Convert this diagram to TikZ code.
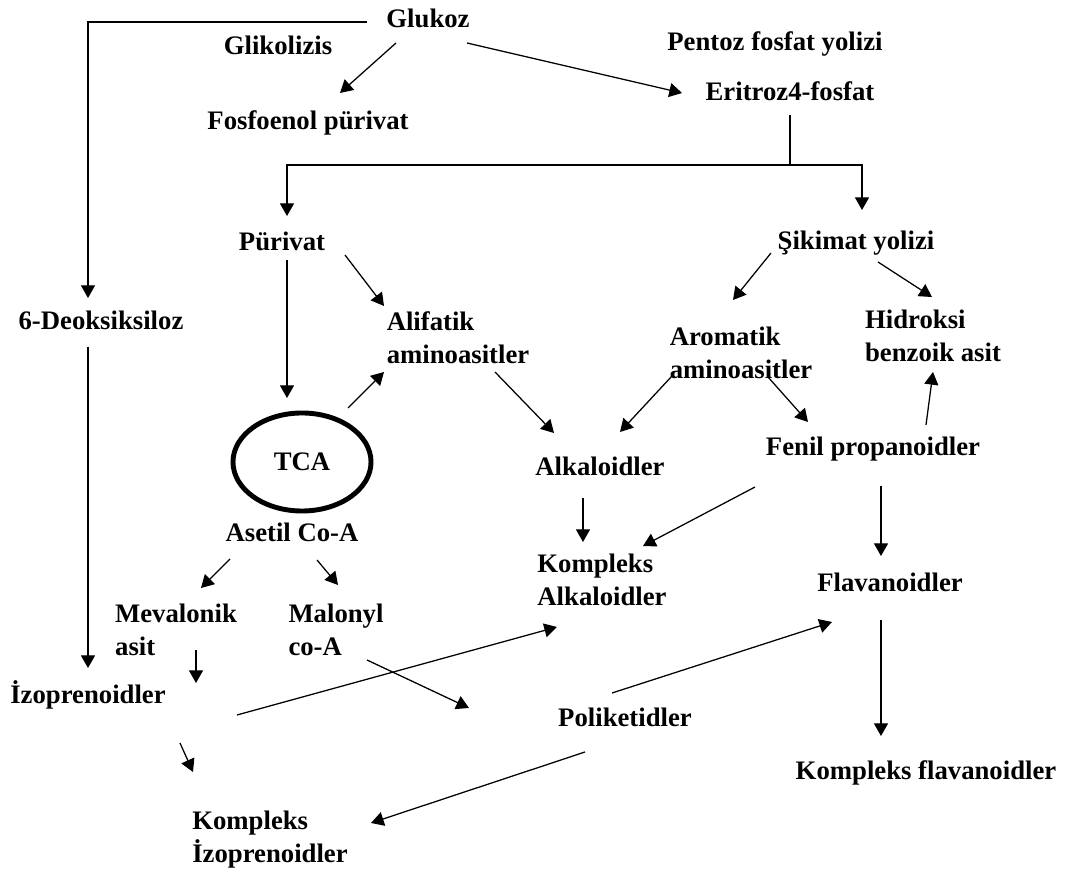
\documentclass[tikz,border=0pt]{standalone}
\usepackage{fontspec}
\setmainfont{Liberation Serif}
\usepackage{tikz}
\usetikzlibrary{shapes.geometric, arrows.meta}

\begin{document}
\begin{tikzpicture}[x=0.025cm, y=-0.025cm,
    lbl/.style={font=\fontsize{19}{23.5}\selectfont\bfseries, inner sep=0pt},
    blk/.style={lbl, align=left},
    ln/.style={line width=0.9pt},
    arr/.style={ln, -{Triangle[length=9pt, width=10pt]}}]
  \useasboundingbox (0,0) rectangle (1081,878);

  % Glucose and its two routes
  \node[lbl] (glukoz) at (428,18) {Glukoz};
  \node[lbl] (glikoliz) at (278,45) {Glikolizis};
  \node[lbl] (fosfo) at (308,123) {Fosfoenol pürivat};
  \node[lbl] (pentoz) at (775,44) {Pentoz fosfat yolizi};
  \node[lbl] (eritroz) at (790,91) {Eritroz4-fosfat};

  % Second level
  \node[lbl] (purivat) at (282,241) {Pürivat};
  \node[lbl] (sikimat) at (856,243) {Şikimat yolizi};
  \node[lbl] (deoksi) at (101,320) {6-Deoksiksiloz};
  \node[blk] (alifatik) at (458,338) {Alifatik\\aminoasitler};
  \node[blk] (aromatik) at (741,353) {Aromatik\\aminoasitler};
  \node[blk] (hidroksi) at (933,336) {Hidroksi\\benzoik asit};

  % TCA cycle
  \node[lbl, draw, ellipse, line width=3.5pt, minimum width=3.45cm, minimum height=2.45cm] (tca) at (302,462) {TCA};
  \node[lbl] (asetil) at (292,532) {Asetil Co-A};

  % Middle products
  \node[lbl] (alkaloid) at (600,466) {Alkaloidler};
  \node[lbl] (fenil) at (873,449) {Fenil propanoidler};
  \node[blk] (kalkaloid) at (602,580) {Kompleks\\Alkaloidler};
  \node[lbl] (flavan) at (890,582) {Flavanoidler};
  \node[blk] (mevalonik) at (176,630) {Mevalonik\\asit};
  \node[blk] (malonyl) at (336,630) {Malonyl\\co-A};

  % Bottom products
  \node[lbl] (izopren) at (88,695) {İzoprenoidler};
  \node[lbl] (poliket) at (625,717) {Poliketidler};
  \node[lbl] (kflavan) at (926,773) {Kompleks flavanoidler};
  \node[blk] (kizopren) at (270,840) {Kompleks\\İzoprenoidler};

  % Connectors from the top
  \draw[arr] ([shift={(-61,4)}]glukoz.center) -| ([shift={(-13,-22)}]deoksi.center);
  \draw[arr] ([shift={(-32,25)}]glukoz.center) -- ([shift={(32,-30)}]fosfo.center);
  \draw[arr] ([shift={(39,25)}]glukoz.center) -- ([shift={(-108,2)}]eritroz.center);
  \coordinate (split) at ([shift={(0,74)}]eritroz.center);
  \draw[ln] ([shift={(0,24)}]eritroz.center) -- (split);
  \draw[arr] (split) -| ([shift={(5,-25)}]purivat.center);
  \draw[arr] (split) -| ([shift={(6,-33)}]sikimat.center);

  % Left half
  \draw[arr] ([shift={(5,19)}]purivat.center) -- ([shift={(-15,-64)}]tca.center);
  \draw[arr] ([shift={(63,14)}]purivat.center) -- ([shift={(-74,-32)}]alifatik.center);
  \draw[arr] ([shift={(46,-54)}]tca.center) -- ([shift={(-74,34)}]alifatik.center);
  \draw[arr] ([shift={(37,34)}]alifatik.center) -- ([shift={(-46,-33)}]alkaloid.center);
  \draw[arr] ([shift={(-62,27)}]asetil.center) -- ([shift={(25,-42)}]mevalonik.center);
  \draw[arr] ([shift={(25,28)}]asetil.center) -- ([shift={(2,-45)}]malonyl.center);
  \draw[arr] ([shift={(-13,27)}]deoksi.center) -- ([shift={(0,-27)}]izopren.center);
  \coordinate (mevend) at ([shift={(20,53)}]mevalonik.center);
  \draw[arr] ([shift={(20,20)}]mevalonik.center) -- (mevend);
  \draw[arr] ([shift={(92,48)}]izopren.center) -- ([shift={(-77,-68)}]kizopren.center);
  \draw[arr] ([shift={(149,20)}]izopren.center) -- ([shift={(-45,47)}]kalkaloid.center);
  \draw[arr] ([shift={(31,30)}]malonyl.center) -- ([shift={(-156,-9)}]poliket.center);

  % Right half
  \draw[arr] ([shift={(-85,10)}]sikimat.center) -- ([shift={(-8,-53)}]aromatik.center);
  \draw[arr] ([shift={(22,19)}]sikimat.center) -- ([shift={(-1,-39)}]hidroksi.center);
  \draw[arr] ([shift={(-69,23)}]aromatik.center) -- ([shift={(20,-34)}]alkaloid.center);
  \draw[arr] ([shift={(27,24)}]aromatik.center) -- ([shift={(-65,-27)}]fenil.center);
  \draw[arr] ([shift={(53,-24)}]fenil.center) -- ([shift={(0,36)}]hidroksi.center);
  \draw[arr] ([shift={(-17,32)}]alkaloid.center) -- ([shift={(-19,-38)}]kalkaloid.center);
  \draw[arr] ([shift={(-118,38)}]fenil.center) -- ([shift={(41,-34)}]kalkaloid.center);
  \draw[arr] ([shift={(8,37)}]fenil.center) -- ([shift={(-9,-26)}]flavan.center);
  \draw[arr] ([shift={(-13,-24)}]poliket.center) -- ([shift={(-58,40)}]flavan.center);
  \draw[arr] ([shift={(-40,35)}]poliket.center) -- ([shift={(101,-17)}]kizopren.center);
  \draw[arr] ([shift={(-9,38)}]flavan.center) -- ([shift={(-45,-37)}]kflavan.center);
\end{tikzpicture}
\end{document}
